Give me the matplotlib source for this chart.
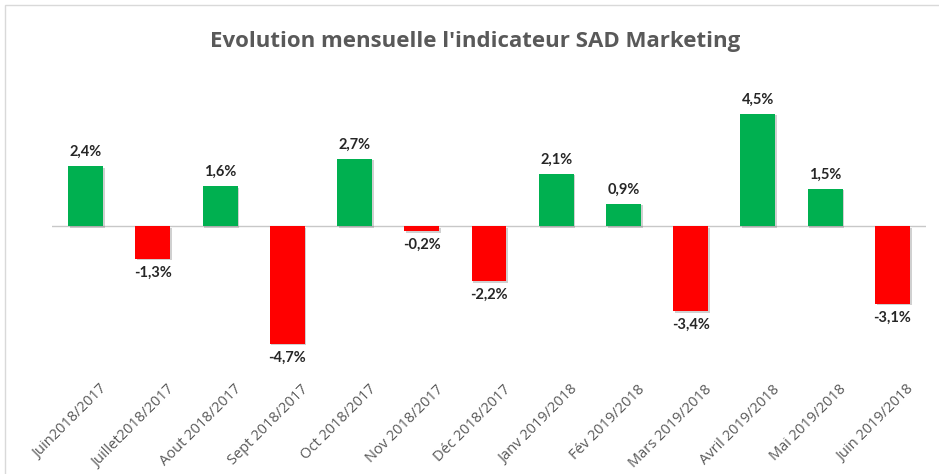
import matplotlib
matplotlib.use("Agg")
import matplotlib.pyplot as plt
import matplotlib.patheffects as pe
from matplotlib.patches import Rectangle

categories = ["Juin2018/2017", "Juillet2018/2017", "Aout 2018/2017", "Sept 2018/2017",
              "Oct 2018/2017", "Nov 2018/2017", "Déc 2018/2017", "Janv 2019/2018",
              "Fév 2019/2018", "Mars 2019/2018", "Avril 2019/2018", "Mai 2019/2018",
              "Juin 2019/2018"]
values = [2.4, -1.3, 1.6, -4.7, 2.7, -0.2, -2.2, 2.1, 0.9, -3.4, 4.5, 1.5, -3.1]
labels = ["2,4%", "-1,3%", "1,6%", "-4,7%", "2,7%", "-0,2%", "-2,2%", "2,1%", "0,9%",
          "-3,4%", "4,5%", "1,5%", "-3,1%"]

W, H = 939, 474
fig = plt.figure(figsize=(W / 100, H / 100), dpi=100)
fig.patch.set_facecolor("white")

# light border of chart area
fig.add_artist(Rectangle((5 / W, -0.01), 1.0, 1.0, transform=fig.transFigure,
                         fill=False, edgecolor="#d9d9d9", linewidth=1))

left, right = 52, 926
top, bottom = 101, 351
ax = fig.add_axes([left / W, 1 - bottom / H, (right - left) / W, (bottom - top) / H])
ax.set_xlim(-0.5, len(values) - 0.5)
ax.set_ylim(-5, 5)

colors = ["#00B050" if v >= 0 else "#FF0000" for v in values]
x = list(range(len(values)))
bars = ax.bar(x, values, width=0.52, color=colors, zorder=3)
for b in bars:
    b.set_path_effects([pe.SimplePatchShadow(offset=(1.2, -1.2), shadow_rgbFace="#7a7a7a", alpha=0.35),
                        pe.Normal()])

ax.axhline(0, color="#c8c8c8", linewidth=1.0, zorder=2)

for xi, v, lab in zip(x, values, labels):
    if v >= 0:
        ax.annotate(lab, (xi, v), xytext=(0, 5), textcoords="offset points",
                    ha="center", va="bottom", fontsize=10.5, fontweight="bold",
                    family="Lato", color="#262626")
    else:
        ax.annotate(lab, (xi, v), xytext=(0, -5), textcoords="offset points",
                    ha="center", va="top", fontsize=10.5, fontweight="bold",
                    family="Lato", color="#262626")

for s in ax.spines.values():
    s.set_visible(False)
ax.set_yticks([])
ax.set_xticks(x)
ax.tick_params(axis="x", length=0, pad=0)
ax.set_xticklabels([])
for xi, c in zip(x, categories):
    ax.annotate(c, (xi, 0), xycoords=("data", "figure fraction"),
                xytext=(10, (H - 382) * 0.72), textcoords="offset points",
                rotation=45, ha="right", va="top", fontsize=10.5,
                family="Open Sans", color="#595959", rotation_mode="anchor")

fig.text(475 / W, 1 - 42 / H, "Evolution mensuelle l'indicateur SAD Marketing",
         ha="center", va="center", fontsize=16, fontweight="bold",
         family="Open Sans", color="#595959")

fig.savefig("out.png", dpi=100)
